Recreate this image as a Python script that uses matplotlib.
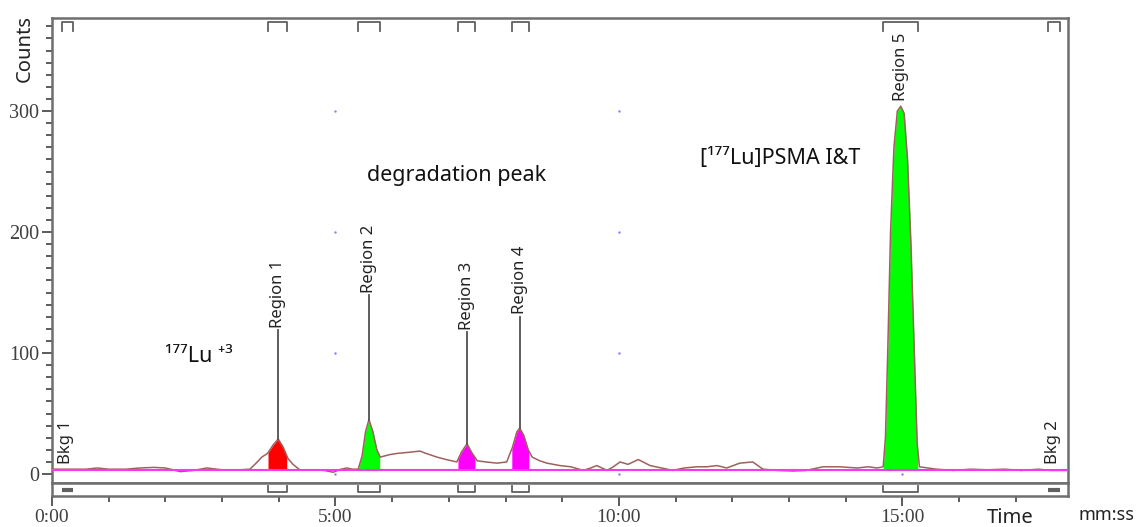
import numpy as np
import matplotlib
matplotlib.use("Agg")
import matplotlib.pyplot as plt
from matplotlib.ticker import MultipleLocator, FuncFormatter
import matplotlib.transforms as mtransforms

# =========================
# DATA
# =========================
time_min = [0.0, 0.3, 0.6, 0.8, 1.0, 1.3, 1.55, 1.8, 2.0, 2.26, 2.5, 2.73, 3.0, 3.3, 3.49,
            3.6, 3.7, 3.8, 3.9, 3.99, 4.08, 4.16, 4.25, 4.37, 4.6, 4.8, 4.96, 5.1, 5.2, 5.3,
            5.4, 5.47, 5.53, 5.59, 5.66, 5.73, 5.79, 5.95, 6.08, 6.3, 6.49, 6.6, 6.79, 6.95,
            7.14, 7.22, 7.32, 7.4, 7.5, 7.65, 7.85, 8.02, 8.12, 8.2, 8.25, 8.32, 8.4, 8.47,
            8.6, 8.73, 8.96, 9.15, 9.37, 9.5, 9.61, 9.79, 9.9, 10.02, 10.16, 10.34, 10.55,
            10.75, 10.95, 11.15, 11.37, 11.55, 11.73, 11.9, 12.13, 12.36, 12.54, 12.8, 13.07,
            13.3, 13.6, 13.9, 14.2, 14.4, 14.55, 14.66, 14.70, 14.74, 14.79, 14.85, 14.91,
            14.97, 15.03, 15.09, 15.15, 15.21, 15.26, 15.30, 15.6, 15.9, 16.2, 16.5, 16.8,
            17.1, 17.4, 17.6, 17.92]
counts = [4, 4, 4, 5, 4, 4, 5, 5.5, 5, 2, 3, 5, 3.5, 3.5, 4,
          9, 14, 17, 24, 29, 22, 13, 8, 3.5, 3.5, 3, 1.5, 4, 5, 4,
          4, 15, 35, 45, 35, 20, 14, 16, 17, 18, 19, 17, 14, 12,
          10, 18, 25, 18, 11, 10, 9, 10, 22, 35, 38, 32, 20, 14,
          11, 9, 7, 6, 3, 5, 7, 3, 6, 10, 8, 12, 7,
          5, 3, 5, 6, 6, 7, 5, 9, 10, 4, 3, 2.5,
          3, 6, 6, 5, 6, 5, 6, 30, 100, 200, 270, 300,
          304, 298, 260, 190, 100, 25, 6, 4, 3, 4, 3.5, 4,
          3, 4, 3, 3]

baseline = 3

region_names = ["Region 1", "Region 2", "Region 3", "Region 4", "Region 5"]
region_start = [3.81, 5.40, 7.16, 8.11, 14.66]
region_end = [4.14, 5.78, 7.46, 8.41, 15.27]
region_peak_t = [3.99, 5.59, 7.32, 8.25, 14.97]
region_label_y = [119, 148, 117, 130, 306]
region_colors = ["#ff0000", "#00ff00", "#ff00ff", "#ff00ff", "#00ff00"]

bkg_names = ["Bkg 1", "Bkg 2"]
bkg_start = [0.18, 17.57]
bkg_end = [0.37, 17.78]

# =========================
# FIGURE
# =========================
W, H = 1140, 527
fig = plt.figure(figsize=(W / 100, H / 100), dpi=100)

left, right, top, mid, bottom = 52, 1068, 18, 483, 496
ax = fig.add_axes([left / W, (H - mid) / H, (right - left) / W, (mid - top) / H])
strip = fig.add_axes([left / W, (H - bottom) / H, (right - left) / W, (bottom - mid) / H],
                     sharex=ax)

sans = ["Noto Sans", "DejaVu Sans"]
serif = "Liberation Serif"
spine_c = "#6e6e6e"
tick_c = "#404040"

t = np.array(time_min)
c = np.array(counts)

# grid dots
for gx in [5, 10, 15]:
    ax.scatter([gx] * 4, [0, 100, 200, 300], s=3, color="#8080ff", zorder=1, lw=0)

# region fills
for a, b, col in zip(region_start, region_end, region_colors):
    inside = (t > a) & (t < b)
    xs = np.concatenate([[a], t[inside], [b]])
    ys = np.concatenate([[np.interp(a, t, c)], c[inside], [np.interp(b, t, c)]])
    ax.fill_between(xs, baseline, ys, color=col, lw=0, zorder=2)

ax.plot(t, c, color="#a0605c", lw=1.1, zorder=3)
ax.axhline(baseline, color="#ff33ff", lw=1.5, zorder=4)

# region labels
for name, pt, ly in zip(region_names, region_peak_t, region_label_y):
    py = np.interp(pt, t, c)
    if ly > py + 2:
        ax.plot([pt, pt], [py, ly], color="#505050", lw=1.3, zorder=5)
    ax.text(pt, ly + 2, name, rotation=90, ha="center", va="bottom",
            fontsize=12, family=sans, color="#222222", zorder=6)

for name, a, b in zip(bkg_names, bkg_start, bkg_end):
    ax.text((a + b) / 2 - 0.02, 8, name, rotation=90, ha="center", va="bottom",
            fontsize=12, family=sans, color="#222222")

# brackets at top and bottom
trans_top = mtransforms.blended_transform_factory(ax.transData, ax.transAxes)
trans_bot = mtransforms.blended_transform_factory(strip.transData, strip.transAxes)
for a, b in zip(region_start + bkg_start, region_end + bkg_end):
    ax.plot([a, a, b, b], [0.973, 0.991, 0.991, 0.973], color="#606060", lw=1.3,
            transform=trans_top, clip_on=False)
for a, b in zip(region_start, region_end):
    strip.plot([a, a, b, b], [0.75, 0.3, 0.3, 0.75], color="#606060", lw=1.3,
               transform=trans_bot)
for a, b in zip(bkg_start, bkg_end):
    strip.plot([a, b], [0.45, 0.45], color="#606060", lw=3, transform=trans_bot,
               solid_capstyle="butt")

# annotations
ax.text(5.56, 247, "degradation peak", fontsize=15.5, family=sans, va="center", color="#111111")
ax.text(11.43, 261, "[\u00b9\u2077\u2077Lu]PSMA I&T", fontsize=15.5, family=sans,
        va="center", color="#111111")
ax.text(1.99, 97, "\u00b9\u2077\u2077Lu \u207a\u00b3", fontsize=15.5, family=sans,
        va="center", color="#111111")

# =========================
# AXES
# =========================
ax.set_xlim(0, 17.92)
ax.set_ylim(-7.4, 376.9)
ax.yaxis.set_major_locator(MultipleLocator(100))
ax.yaxis.set_minor_locator(MultipleLocator(10))
ax.tick_params(axis="y", which="major", length=7, width=1.2, color=tick_c,
               labelsize=14.5, labelcolor=tick_c, pad=2)
ax.tick_params(axis="y", which="minor", length=4, width=1.2, color=tick_c)
for lab in ax.get_yticklabels():
    lab.set_family(serif)
ax.tick_params(axis="x", which="both", bottom=False, labelbottom=False)

strip.set_ylim(0, 1)
strip.set_yticks([])
strip.xaxis.set_major_locator(MultipleLocator(5))
strip.xaxis.set_minor_locator(MultipleLocator(1))
strip.xaxis.set_major_formatter(FuncFormatter(lambda v, p: "%d:%02d" % (int(v), 0)))
strip.tick_params(axis="x", which="major", length=7, width=1.2, color=tick_c,
                  labelsize=14, labelcolor=tick_c, pad=2)
strip.tick_params(axis="x", which="minor", length=4, width=1.2, color=tick_c)
for lab in strip.get_xticklabels():
    lab.set_family(serif)

for a in (ax, strip):
    for s in a.spines.values():
        s.set_color(spine_c)
        s.set_linewidth(1.8)

fig.text(25 / W, 1 - 49 / H, "Counts", rotation=90, ha="center", va="center",
         fontsize=14.5, family=sans, color="#222222")
fig.text(1010 / W, 1 - 518 / H, "Time", ha="center", va="center",
         fontsize=14.5, family=sans, color="#222222")
fig.text(1106 / W, 1 - 515 / H, "mm:ss", ha="center", va="center",
         fontsize=13, family=sans, color="#222222")

fig.savefig("out.png", dpi=100)
